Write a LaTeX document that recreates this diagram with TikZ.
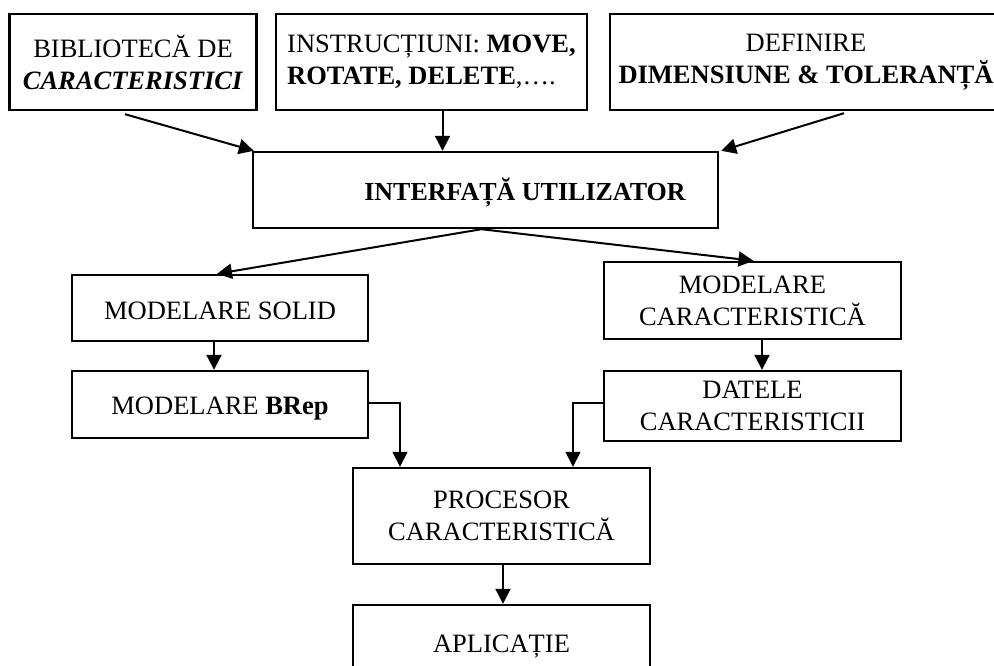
\documentclass[tikz,border=0pt]{standalone}
\usepackage{fontspec}
\setmainfont{Liberation Serif}
\usetikzlibrary{arrows.meta}
\begin{document}
\begin{tikzpicture}[x=1pt,y=-1pt,
  box/.style={draw, line width=2.4pt, rectangle, inner sep=0pt, align=center,
    font=\fontsize{26.5}{32}\selectfont},
  conn/.style={line width=2pt, -{Triangle[length=15pt,width=15pt]}}]
\useasboundingbox (0,0) rectangle (994,666);
\clip (0,0) rectangle (994,666);

% input boxes
\node[box, minimum width=247pt, minimum height=96pt] (lib) at (133,62)
  {BIBLIOTECĂ DE\\\textbf{\textit{CARACTERISTICI}}};
\node[box, minimum width=311pt, minimum height=96pt, align=left] (instr) at (431.5,62)
  {INSTRUCȚIUNI: \textbf{MOVE,}\\\textbf{ROTATE, DELETE},….};
\node[box, minimum width=392pt, minimum height=96pt] (defin) at (806,62)
  {DEFINIRE\\\textbf{DIMENSIUNE \& TOLERANȚĂ}};

% user interface
\node[box, minimum width=465pt, minimum height=76pt] (ui) at (485.5,190) {};
\node[font=\fontsize{26}{31}\selectfont\bfseries, inner sep=0pt] (uitext) at (525,193) {INTERFAȚĂ UTILIZATOR};

% modelling branches
\node[box, minimum width=296pt, minimum height=66pt] (solid) at (220,308) {};
\node[font=\fontsize{26.5}{32}\selectfont, inner sep=0pt] (solidtext) at (220,311) {MODELARE SOLID};
\node[box, minimum width=296pt, minimum height=67pt] (brep) at (220,404.5) {};
\node[font=\fontsize{26.5}{32}\selectfont, inner sep=0pt, anchor=base] (breptext) at (220,414) {MODELARE \textbf{BRep}};
\node[box, minimum width=297pt, minimum height=77pt] (feat) at (752.5,300.5) {MODELARE\\CARACTERISTICĂ};
\node[box, minimum width=297pt, minimum height=70pt] (fdata) at (752.5,406) {DATELE\\CARACTERISTICII};

% processing
\node[box, minimum width=297pt, minimum height=96pt] (proc) at (501.5,516) {PROCESOR\\CARACTERISTICĂ};
\node[box, minimum width=297pt, minimum height=80pt] (app) at (501.5,645) {};
\node[font=\fontsize{26.5}{32}\selectfont, inner sep=0pt, anchor=base] (apptext) at (501.5,652) {APLICAȚIE};

% connectors
\draw[conn] ([xshift=-8pt,yshift=-3pt]lib.south) -- ([xshift=2pt]ui.north west);
\draw[conn] ([xshift=11pt]instr.south) -- ([xshift=11pt]instr.south |- ui.north);
\draw[conn] ([xshift=38pt,yshift=-2pt]defin.south) -- ([xshift=2pt]ui.north east);
\draw[conn] ([xshift=-4pt]ui.south) -- ([xshift=-3pt]solid.north);
\draw[conn] ([xshift=-4pt]ui.south) -- ([xshift=1pt]feat.north);
\draw[conn] ([xshift=-6pt]solid.south) -- ([xshift=-6pt]brep.north);
\draw[conn] ([xshift=9.5pt]feat.south) -- ([xshift=9.5pt]fdata.north);
\draw[conn, line width=1.6pt] ([yshift=1.5pt]brep.east) -| ([xshift=-101.5pt]proc.north);
\draw[conn, line width=1.6pt] ([yshift=3pt]fdata.west) -| ([xshift=71.5pt]proc.north);
\draw[conn] ([xshift=1.5pt]proc.south) -- ([xshift=1.5pt]app.north);
\end{tikzpicture}
\end{document}
